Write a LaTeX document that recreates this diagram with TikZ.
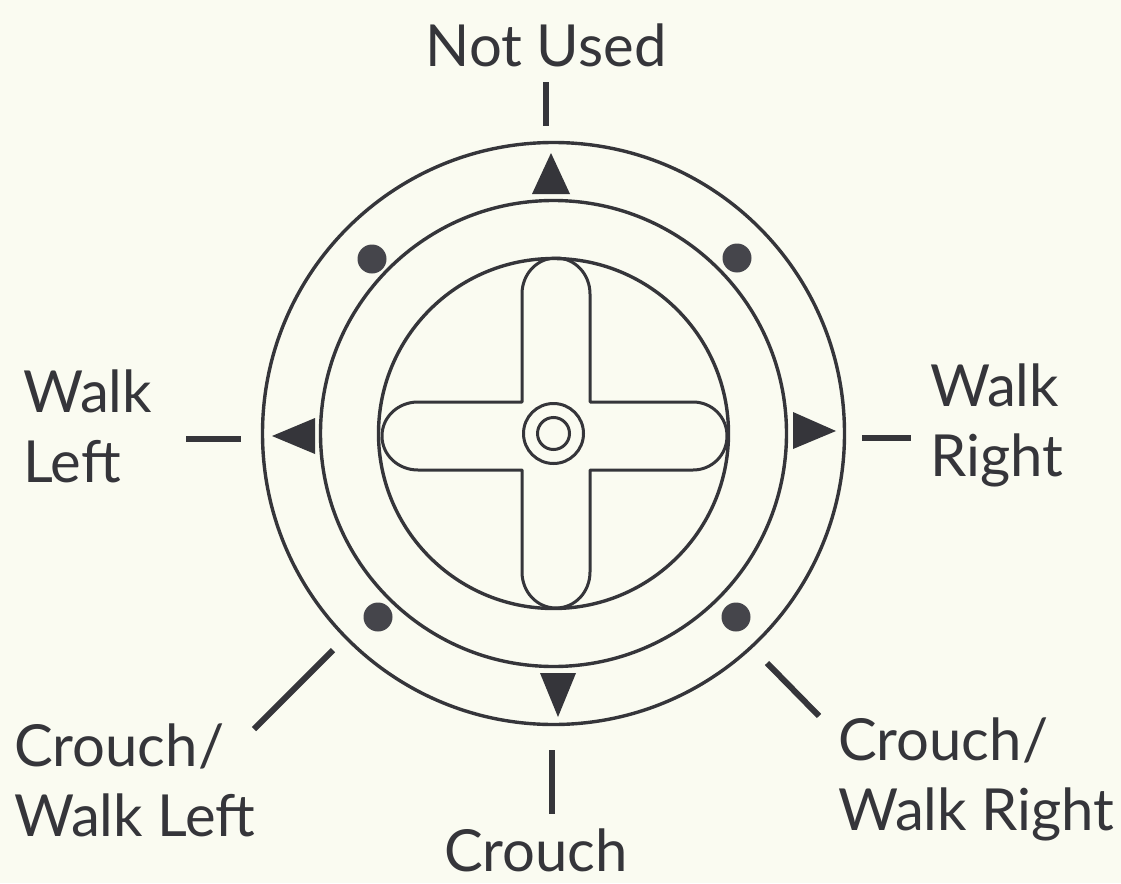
\documentclass[tikz,border=0pt]{standalone}
\usepackage{fontspec}
\setmainfont{Lato}
\definecolor{paper}{HTML}{FAFBF1}
\definecolor{ink}{HTML}{35353A}
\definecolor{dotink}{HTML}{45454B}
\tikzset{
  ring/.style={draw=ink,line width=3.4pt,fill=none},
  thinring/.style={draw=ink,line width=3pt,fill=none},
  tick/.style={draw=ink,line width=6pt},
  dot/.style={circle,fill=dotink,inner sep=0pt,minimum size=29pt},
  tri/.style={fill=ink,draw=none},
  lab/.style={text=ink,font=\fontsize{58}{70}\selectfont,inner sep=0pt,align=left}
}
\begin{document}
\begin{tikzpicture}[x=1pt,y=-1pt]
\useasboundingbox[fill=paper] (0,0) rectangle (1121,883);
\coordinate (c) at (553.5,433.5);
\node[ring,circle,minimum size=582pt,inner sep=0pt] (outer) at (c) {};
\node[ring,circle,minimum size=466pt,inner sep=0pt] (mid) at (c) {};
\node[ring,circle,minimum size=350pt,inner sep=0pt] (inner) at (c) {};
\draw[thinring,line join=round] (522,402) -- (522,294)
  .. controls (522,274) and (537,258) .. (556,258)
  .. controls (575,258) and (590,274) .. (590,294)
  -- (590,402) -- (693,402)
  .. controls (712,402) and (727,417) .. (727,436)
  .. controls (727,455) and (712,470) .. (693,470)
  -- (590,470) -- (590,572)
  .. controls (590,592) and (575,608) .. (556,608)
  .. controls (537,608) and (522,592) .. (522,572)
  -- (522,470) -- (418,470)
  .. controls (398,470) and (382,455) .. (382,436)
  .. controls (382,417) and (398,402) .. (418,402) -- cycle;
\node[thinring,circle,minimum size=60pt,inner sep=0pt] (hub1) at (c) {};
\node[thinring,circle,minimum size=32pt,inner sep=0pt] (hub2) at (c) {};
\node[dot] (d1) at (372,259) {};
\node[dot] (d2) at (737,258) {};
\node[dot] (d3) at (378,617) {};
\node[dot] (d4) at (736,617) {};
\fill[tri] (551,153) -- (570,194) -- (532,194) -- cycle;
\fill[tri] (558,717) -- (540,673) -- (576,673) -- cycle;
\fill[tri] (272,436) -- (315,418) -- (315,454) -- cycle;
\fill[tri] (836,431) -- (793,412) -- (793,449) -- cycle;
\coordinate (t1a) at (546,82); \coordinate (t1b) at (546,126);
\coordinate (t2a) at (552,750); \coordinate (t2b) at (552,814);
\coordinate (t3a) at (186,439); \coordinate (t3b) at (241,439);
\coordinate (t4a) at (862,438); \coordinate (t4b) at (911,438);
\coordinate (t5a) at (333,650); \coordinate (t5b) at (254,729);
\coordinate (t6a) at (767,663); \coordinate (t6b) at (819,716);
\draw[tick] (t1a) -- (t1b);
\draw[tick] (t2a) -- (t2b);
\draw[tick] (t3a) -- (t3b);
\draw[tick] (t4a) -- (t4b);
\draw[tick] (t5a) -- (t5b);
\draw[tick] (t6a) -- (t6b);
\node[lab,anchor=center] (n1) at (546,45) {Not Used};
\node[lab,anchor=center] (n2) at (536,850) {Crouch};
\node[lab,anchor=west] (n3) at (23,426) {Walk\\Left};
\node[lab,anchor=west] (n4) at (930,425) {Walk\\Right};
\node[lab,anchor=west] (n5) at (14,780) {Crouch/\\Walk Left};
\node[lab,anchor=west] (n6) at (838,779) {Crouch/\\Walk Right};
\end{tikzpicture}
\end{document}
